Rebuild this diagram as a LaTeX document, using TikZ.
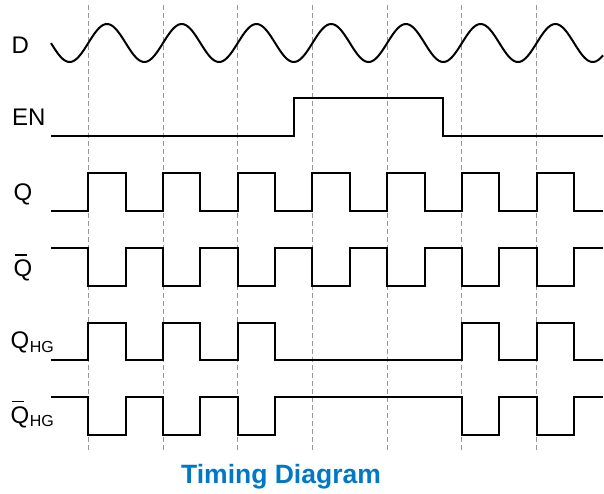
\documentclass[tikz,border=0pt]{standalone}
\usepackage{fontspec}
\setmainfont{Liberation Sans}
\definecolor{titleblue}{RGB}{0,120,200}
\definecolor{gridgray}{RGB}{150,150,150}
\newcommand\barQ{\rlap{\kern1.3pt\rule[20.6pt]{12.5pt}{1.6pt}}Q}
\begin{document}
\begin{tikzpicture}[x=1pt,y=-1pt,
  sig/.style={line width=2pt,line join=miter},
  grid/.style={gridgray,line width=1pt,dash pattern=on 5pt off 3pt},
  lab/.style={anchor=base west,inner sep=0pt,font=\fontsize{24}{28}\selectfont},
  sublab/.style={anchor=base west,inner sep=0pt,font=\fontsize{16}{19}\selectfont},
  ttl/.style={anchor=base,inner sep=0pt,text=titleblue,font=\fontsize{26.5}{30}\selectfont\bfseries}]
\useasboundingbox (0,0) rectangle (604,493);
\fill[white] (0,0) rectangle (604,493);
% grid
\foreach \k in {0,...,6}{
  \draw[grid] ({88.3+74.73*\k},5) -- ({88.3+74.73*\k},451);
}
% D
\draw[sig,line join=round] plot[domain=51:603,samples=300,smooth] (\x,{43-19*sin(((\x-88.3)/74.73)*360)});
% EN
\draw[sig] (51,136) -- (294,136) -- (294,98.3) -- (443.3,98.3) -- (443.3,136) -- (603,136);
% Q
\def\lo{210.7}\def\hi{173.3}
\draw[sig] (51,\lo)
  \foreach \k in {0,...,6}{ -- ({88.3+74.73*\k},\lo) -- ({88.3+74.73*\k},\hi) -- ({125.7+74.73*\k},\hi) -- ({125.7+74.73*\k},\lo)} -- (603,\lo);
% Qbar
\def\lo{285.7}\def\hi{248.3}
\draw[sig] (51,\hi)
  \foreach \k in {0,...,6}{ -- ({88.3+74.73*\k},\hi) -- ({88.3+74.73*\k},\lo) -- ({125.7+74.73*\k},\lo) -- ({125.7+74.73*\k},\hi)} -- (603,\hi);
% QHG
\def\lo{360}\def\hi{322.7}
\draw[sig] (51,\lo)
  \foreach \k in {0,1,2,5,6}{ -- ({88.3+74.73*\k},\lo) -- ({88.3+74.73*\k},\hi) -- ({125.7+74.73*\k},\hi) -- ({125.7+74.73*\k},\lo)} -- (603,\lo);
% QHGbar
\def\lo{435}\def\hi{397.3}
\draw[sig] (51,\hi)
  \foreach \k in {0,1,2,5,6}{ -- ({88.3+74.73*\k},\hi) -- ({88.3+74.73*\k},\lo) -- ({125.7+74.73*\k},\lo) -- ({125.7+74.73*\k},\hi)} -- (603,\hi);
% labels
\node[lab] (lD) at (11.5,53) {D};
\node[lab] (lEN) at (12,125) {EN};
\node[lab] (lQ) at (13.5,200) {Q};
\node[lab] (lQb) at (13.5,276.5) {\barQ};
\node[lab] (lQHG) at (10.3,348.5) {Q};
\node[sublab] (sQHG) at (lQHG.base east) [yshift=-3.5pt,xshift=0.3pt] {HG};
\node[lab] (lQHGb) at (10.3,423) {\barQ};
\node[sublab] (sQHGb) at (lQHGb.base east) [yshift=-3.5pt,xshift=0.3pt] {HG};
\node[ttl] (title) at (281,483) {Timing Diagram};
\end{tikzpicture}
\end{document}
